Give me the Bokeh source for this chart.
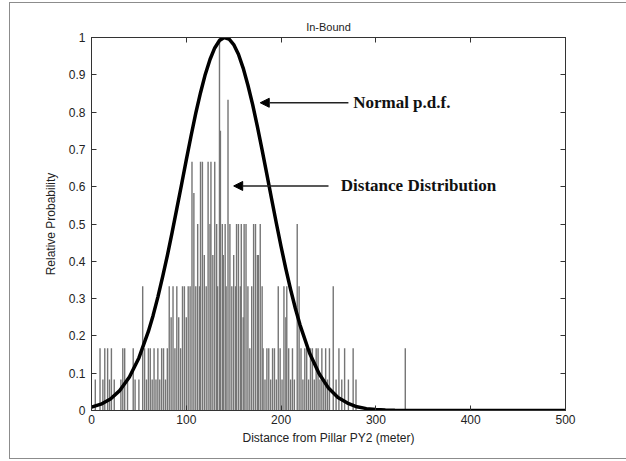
from bokeh.plotting import figure
from bokeh.models import (LinearAxis, Range1d, FixedTicker, CustomJSTickFormatter,
                          Arrow, NormalHead, Label)
from bokeh.embed import file_html
from bokeh.resources import INLINE

title_text = "In-Bound"
x_label = "Distance from Pillar PY2 (meter)"
y_label = "Relative Probability"
x_ticks = [0, 100, 200, 300, 400, 500]
y_ticks = [0, 0.1, 0.2, 0.3, 0.4, 0.5, 0.6, 0.7, 0.8, 0.9, 1.0]

# distance distribution (stems): distance in metres, count (max count = 12)
stem_dist = [4, 9, 12, 14, 17, 19, 21, 24, 31, 33, 35, 38, 44, 46, 50, 54, 56, 58, 60,
             62, 64, 66, 68, 70, 72, 74, 76, 78, 80, 82, 84, 86, 88, 90, 92, 94, 96, 98,
             100, 102, 104, 106, 108, 110,
             112, 114, 115, 117, 119, 121, 123, 125, 126, 128, 130, 132, 133, 135, 136,
             138, 139, 141, 142, 144, 146, 148, 150, 152, 153, 155, 157, 158, 160, 161,
             163, 165, 167,
             169, 171, 173, 175, 176, 178, 180, 181, 183, 185, 187, 189, 191, 193, 195,
             197, 199, 201, 203, 205, 206, 208, 210, 212, 214, 217, 219, 221, 223, 225,
             227, 229, 231, 233, 235, 237, 239, 241, 243, 245, 247, 249, 251, 255, 258,
             261, 264, 267, 271, 276, 279, 331]
stem_count = [1, 2, 1, 2, 2, 1, 2, 1, 1, 2, 2, 1, 2, 1, 1, 4, 2, 1, 2,
              2, 1, 2, 1, 2, 1, 2, 2, 1, 2, 4, 3, 4, 2, 4, 3, 2, 4, 4,
              3, 4, 4, 8, 7, 4,
              6, 4, 8, 8, 5, 4, 8, 6, 8, 5, 8, 6, 4, 12, 9,
              6, 5, 6, 4, 10, 6, 4, 5, 4, 6, 6, 4, 6, 3, 6,
              6, 4, 2,
              4, 6, 6, 5, 5, 6, 4, 2, 1, 2, 2, 1, 2, 2, 1,
              4, 2, 1, 4, 3, 4, 2, 1, 2, 1, 6, 4, 2, 1, 2,
              2, 1, 2, 2, 1, 2, 2, 1, 2, 1, 2, 1, 2, 4, 1,
              2, 1, 2, 1, 2, 1, 2]
max_count = 12
stem_prob = [c / max_count for c in stem_count]
stem_zero = [0 for _ in stem_dist]

# normal p.d.f. curve (relative, peak = 1)
pdf_dist = [0, 10, 20, 30, 40, 50, 60, 65, 70, 75, 80, 85, 90, 95, 100, 105, 110, 115,
            120, 125, 130, 135, 140, 145, 150, 155, 160, 165, 170, 175, 180, 185, 190,
            195, 200, 205, 210, 215, 220, 230, 240, 250, 260, 270, 280, 290, 300, 310,
            320, 400, 500]
pdf_value = [0.009, 0.017, 0.031, 0.054, 0.090, 0.141, 0.212, 0.255, 0.304, 0.358,
             0.415, 0.477, 0.541, 0.606, 0.672, 0.736, 0.797, 0.852, 0.901, 0.941,
             0.972, 0.992, 1.000, 0.996, 0.981, 0.955, 0.918, 0.872, 0.820, 0.761,
             0.698, 0.633, 0.567, 0.502, 0.439, 0.380, 0.325, 0.274, 0.229, 0.154,
             0.099, 0.060, 0.035, 0.020, 0.010, 0.005, 0.0025, 0.0012, 0.0005, 0.0, 0.0]

FONT = "Liberation Sans"
TXT = "#222222"
AX = "#333333"

p = figure(width=617, height=457, output_backend="svg", toolbar_location=None,
           x_range=Range1d(0, 500), y_range=Range1d(0, 1),
           min_border_left=81, min_border_right=62, min_border_top=34,
           min_border_bottom=50, title=title_text,
           background_fill_color="white", border_fill_color="white")
p.styles = {"margin-left": "9px", "margin-top": "2px",
            "border-left": "1px solid #8c8c8c", "border-top": "1px solid #8c8c8c",
            "border-bottom": "1px solid #8c8c8c", "border-right": "none"}

p.title.align = "center"
p.title.text_font = FONT
p.title.text_font_style = "normal"
p.title.text_font_size = "11px"
p.title.text_color = TXT

p.xgrid.visible = False
p.ygrid.visible = False
p.outline_line_color = AX
p.outline_line_width = 1

for ax in (p.xaxis[0], p.yaxis[0]):
    ax.major_tick_in = 5
    ax.major_tick_out = 0
    ax.minor_tick_in = 0
    ax.minor_tick_out = 0
    ax.axis_line_color = AX
    ax.major_tick_line_color = AX
    ax.major_label_text_font = FONT
    ax.major_label_text_font_size = "12px"
    ax.major_label_text_color = TXT
    ax.axis_label_text_font = FONT
    ax.axis_label_text_font_size = "12px"
    ax.axis_label_text_font_style = "normal"
    ax.axis_label_text_color = TXT

p.xaxis[0].ticker = FixedTicker(ticks=x_ticks)
p.yaxis[0].ticker = FixedTicker(ticks=y_ticks)
p.yaxis[0].formatter = CustomJSTickFormatter(code="return tick.toFixed(1).replace(/\\.0$/, '');")
p.xaxis[0].axis_label = x_label
p.yaxis[0].axis_label = y_label
p.xaxis[0].major_label_standoff = 4
p.yaxis[0].major_label_standoff = 6
p.xaxis[0].axis_label_standoff = 4
p.yaxis[0].axis_label_standoff = 8

blank = CustomJSTickFormatter(code="return '';")
top_ax = LinearAxis(ticker=FixedTicker(ticks=x_ticks), formatter=blank,
                    major_tick_in=5, major_tick_out=0, minor_tick_in=0, minor_tick_out=0,
                    axis_line_color=AX, major_tick_line_color=AX)
right_ax = LinearAxis(ticker=FixedTicker(ticks=y_ticks), formatter=blank,
                      major_tick_in=5, major_tick_out=0, minor_tick_in=0, minor_tick_out=0,
                      axis_line_color=AX, major_tick_line_color=AX)
p.add_layout(top_ax, "above")
p.add_layout(right_ax, "right")

p.segment(x0=stem_dist, y0=stem_zero, x1=stem_dist, y1=stem_prob,
          line_color="#757575", line_width=1.4)
p.line(pdf_dist, pdf_value, line_color="black", line_width=3.5, line_join="round")

# annotations
p.add_layout(Arrow(end=NormalHead(size=9, fill_color="black", line_color="black"),
                   x_start=271, y_start=0.825, x_end=178, y_end=0.825,
                   line_color="#222222", line_width=1.5))
p.add_layout(Label(x=276, y=0.825, text="Normal p.d.f.", text_font="Liberation Serif",
                   text_font_style="bold", text_font_size="17px", text_color="#111111",
                   text_baseline="middle"))
p.add_layout(Arrow(end=NormalHead(size=9, fill_color="black", line_color="black"),
                   x_start=250, y_start=0.602, x_end=150, y_end=0.602,
                   line_color="#222222", line_width=1.5))
p.add_layout(Label(x=263, y=0.602, text="Distance Distribution", text_font="Liberation Serif",
                   text_font_style="bold", text_font_size="17px", text_color="#111111",
                   text_baseline="middle"))

open("out.html", "w").write(file_html(p, INLINE))
